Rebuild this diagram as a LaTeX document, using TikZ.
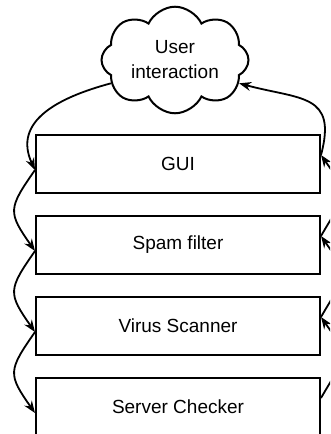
\documentclass[tikz,border=0pt]{standalone}
\usepackage{fontspec}
\setmainfont{Liberation Sans}
\usetikzlibrary{shapes.symbols,arrows.meta,calc}
\begin{document}
\begin{tikzpicture}[x=1pt,y=1pt,
  every node/.style={font=\fontsize{19}{25}\selectfont},
  layer/.style={draw, line width=2pt, minimum width=284pt, minimum height=58pt, inner sep=0pt},
  bubble/.style={cloud, draw, line width=2pt, cloud puffs=8, cloud puff arc=130, aspect=1.5,
    minimum width=147pt, minimum height=100pt, inner sep=0pt, align=center},
  flow/.style={line width=1.8pt, -{Stealth[length=12pt,width=9pt]}},
]
\useasboundingbox (0,0) rectangle (330,-434);
\clip (0,0) rectangle (330,-434);

% cloud and the stack of processing layers
\node[bubble] (user) at (175,-60) {User\\interaction};
\node[layer] (gui)    at (178,-164) {GUI};
\node[layer] (spam)   at (178,-245) {Spam filter};
\node[layer] (virus)  at (178,-326) {Virus Scanner};
\node[layer] (server) at (178,-407) {Server Checker};

% attachment points on the left (downward chain) and right (upward chain)
\foreach \n in {gui,spam,virus,server}{
  \coordinate (\n L) at ($(\n.west)+(0,-6)$);
  \coordinate (\n R) at ($(\n.east)+(0,9)$);
}

% downward path on the left
\draw[flow] (user.200) to[out=195,in=115,looseness=1.2] (guiL);
\draw[flow] (guiL) to[out=235,in=125,looseness=1.5] (spamL);
\draw[flow] (spamL) to[out=235,in=125,looseness=1.5] (virusL);
\draw[flow] (virusL) to[out=235,in=125,looseness=1.5] (serverL);

% upward path on the right
\draw[flow] (serverR) to[out=60,in=-55,looseness=1.6] (virusR);
\draw[flow] (virusR) to[out=60,in=-55,looseness=1.6] (spamR);
\draw[flow] (spamR) to[out=60,in=-55,looseness=1.6] (guiR);
\draw[flow] (guiR) to[out=75,in=-15,looseness=1.5] (user.-20);
\end{tikzpicture}
\end{document}
